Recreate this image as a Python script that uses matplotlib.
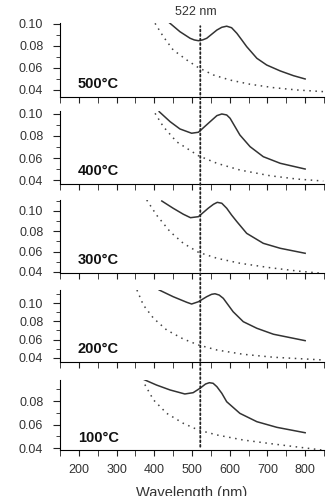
import matplotlib
matplotlib.use("Agg")
import matplotlib.pyplot as plt
from matplotlib.patches import ConnectionPatch
from matplotlib.ticker import MultipleLocator, FixedLocator

plt.rcParams['font.family'] = ['Liberation Sans', 'DejaVu Sans']

temps = ['500°C', '400°C', '300°C', '200°C', '100°C']

# solid curves (wavelength nm, absorbance)
wl_solid = [
    [437, 468, 495, 506, 517, 528, 539, 566, 579, 592, 605, 619, 632, 645, 672, 698, 734, 769, 800],
    [413, 442, 468, 499, 517, 548, 566, 579, 592, 601, 614, 627, 654, 689, 734, 800],
    [420, 450, 477, 496, 517, 543, 557, 567, 579, 592, 605, 619, 645, 689, 734, 800],
    [413, 450, 486, 499, 517, 539, 552, 561, 572, 583, 596, 609, 636, 672, 716, 800],
    [371, 406, 442, 481, 503, 521, 536, 546, 556, 566, 579, 592, 627, 672, 725, 800],
]
ab_solid = [
    [0.102, 0.093, 0.087, 0.0855, 0.0848, 0.0855, 0.087, 0.0945, 0.097, 0.098, 0.0966, 0.0915, 0.0855,
     0.0794, 0.0688, 0.0627, 0.0573, 0.053, 0.050],
    [0.1021, 0.093, 0.0864, 0.0825, 0.0834, 0.093, 0.0985, 0.100, 0.0991, 0.0961, 0.0885, 0.0809,
     0.0703, 0.0612, 0.0552, 0.050],
    [0.1098, 0.1027, 0.0968, 0.0934, 0.0944, 0.1027, 0.1066, 0.1085, 0.1076, 0.1027, 0.096, 0.0895,
     0.078, 0.0682, 0.0633, 0.0584],
    [0.1142, 0.1069, 0.1008, 0.0989, 0.1014, 0.1069, 0.1095, 0.1101, 0.1087, 0.1051, 0.0978, 0.0905,
     0.0796, 0.0724, 0.0659, 0.0589],
    [0.0985, 0.0936, 0.0894, 0.086, 0.0871, 0.0908, 0.0945, 0.0956, 0.0951, 0.0922, 0.0866, 0.0794,
     0.0695, 0.0624, 0.0576, 0.053],
]

# dotted curves
wl_dot = [
    [402, 424, 450, 486, 517, 557, 601, 654, 716, 778, 848],
    [402, 424, 459, 517, 566, 627, 707, 778, 848],
    [380, 406, 442, 477, 517, 566, 627, 707, 778, 844],
    [354, 371, 398, 433, 477, 517, 566, 636, 716, 848],
    [375, 398, 433, 477, 517, 566, 636, 716, 844],
]
ab_dot = [
    [0.1006, 0.0885, 0.0764, 0.0673, 0.0603, 0.0536, 0.049, 0.0452, 0.0421, 0.040, 0.0385],
    [0.1006, 0.0885, 0.0748, 0.0621, 0.0552, 0.0491, 0.0439, 0.0409, 0.0391],
    [0.1108, 0.096, 0.0796, 0.0682, 0.0594, 0.0535, 0.0486, 0.0442, 0.041, 0.0387],
    [0.1142, 0.0978, 0.0833, 0.0705, 0.0607, 0.0542, 0.0487, 0.044, 0.0408, 0.0378],
    [0.094, 0.0809, 0.0695, 0.061, 0.0553, 0.0511, 0.0468, 0.0434, 0.0383],
]

ylims = [(0.0336, 0.1009), (0.0364, 0.1027), (0.039, 0.1108), (0.0356, 0.1142), (0.0383, 0.0979)]
yticks = [[0.04, 0.06, 0.08, 0.10]] * 4 + [[0.04, 0.06, 0.08]]
peak_line = 522

W, H = 334, 496
fig = plt.figure(figsize=(W / 100, H / 100), dpi=100)

boxes = [(23, 97), (111, 184), (200, 273), (290, 362), (380, 450)]
axes = []
for i, (t, b) in enumerate(boxes):
    ax = fig.add_axes([60 / W, 1 - b / H, 264 / W, (b - t) / H])
    ax.plot(wl_solid[i], ab_solid[i], color='#333333', lw=1.1, solid_joinstyle='round')
    ax.plot(wl_dot[i], ab_dot[i], color='#444444', lw=1.1, ls=(0, (1, 3)))
    ax.set_xlim(150, 850)
    ax.set_ylim(*ylims[i])
    ax.spines['top'].set_visible(False)
    ax.spines['right'].set_visible(False)
    ax.xaxis.set_major_locator(FixedLocator([200, 300, 400, 500, 600, 700, 800]))
    ax.xaxis.set_minor_locator(FixedLocator([150, 250, 350, 450, 550, 650, 750, 850]))
    ax.set_yticks(yticks[i])
    ax.set_yticklabels(['%.2f' % v for v in yticks[i]])
    ax.yaxis.set_minor_locator(MultipleLocator(0.01))
    ax.tick_params(which='both', direction='out', color='#222222', labelcolor='#333333', labelsize=9)
    ax.tick_params(axis='y', which='major', length=5, pad=7)
    ax.tick_params(axis='y', which='minor', length=3)
    ax.tick_params(axis='x', which='both', length=4, pad=6)
    if i < 4:
        ax.tick_params(axis='x', labelbottom=False)
    ax.text(0.068, 0.12, temps[i], transform=ax.transAxes, fontsize=10.5,
            fontweight='bold', color='#111111', va='baseline')
    axes.append(ax)

vline = ConnectionPatch(xyA=(peak_line, 0.0411), coordsA=axes[4].transData,
                        xyB=(peak_line, 0.098), coordsB=axes[0].transData,
                        color='#222222', lw=1.3, ls=(0, (1, 1.5)))
fig.add_artist(vline)

fig.text(196 / W, 1 - 15 / H, '522 nm', ha='center', va='baseline', fontsize=9, color='#333333')
fig.text(4 / W, 236 / H, 'Absorbance', rotation=90, ha='right', va='center', fontsize=10.5, color='#333333')
fig.text(192 / W, 1 - 486 / H, 'Wavelength (nm)', ha='center', va='top', fontsize=10.5, color='#333333')

fig.savefig('out.png', dpi=100)
